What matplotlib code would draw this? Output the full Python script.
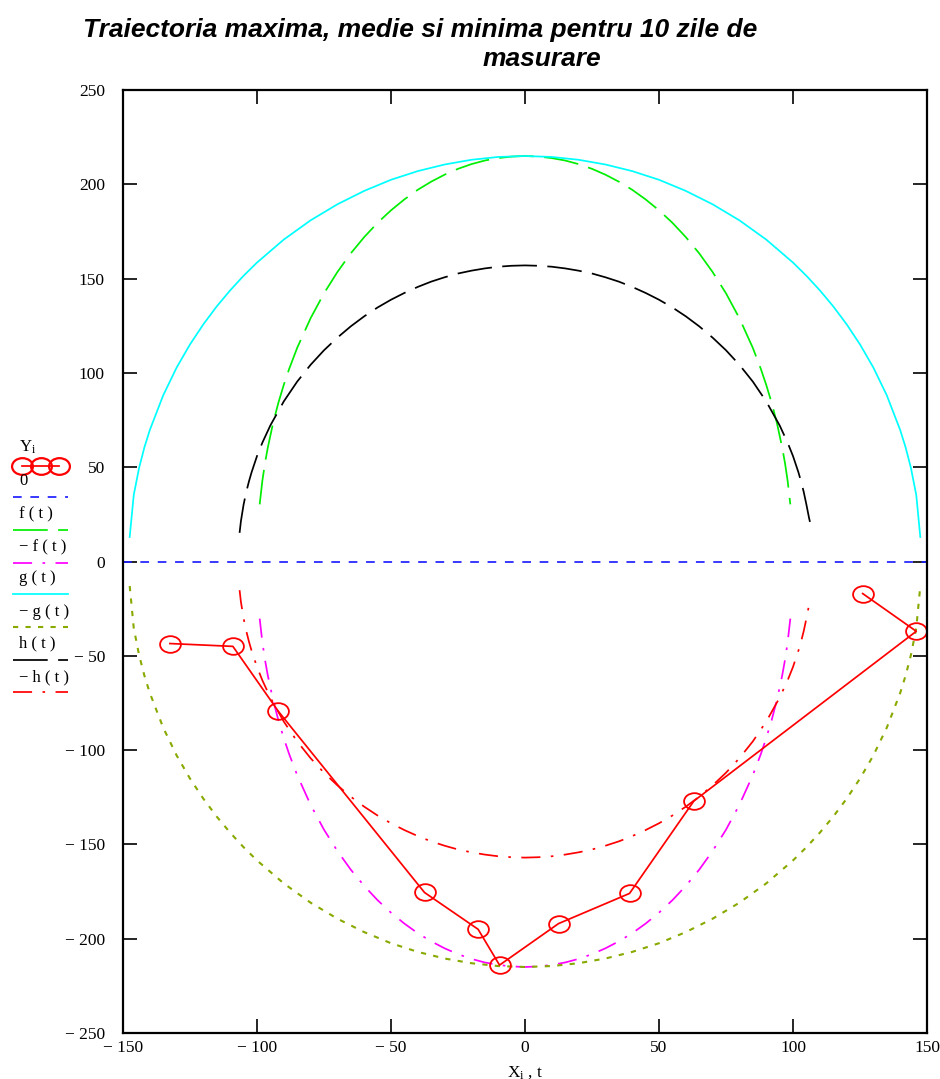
import numpy as np
import matplotlib
matplotlib.use('Agg')
import matplotlib.pyplot as plt
from matplotlib.lines import Line2D
from matplotlib.path import Path
from matplotlib.transforms import Affine2D
from matplotlib.ticker import FuncFormatter

plt.rcParams['mathtext.fontset'] = 'custom'
plt.rcParams['mathtext.rm'] = 'Liberation Serif'
plt.rcParams['mathtext.it'] = 'Liberation Serif'

# measured points Y_i vs X_i
X = [-132.5, -109, -92, -37.5, -17.5, -9.5, 12.5, 39, 63, 146, 126]
Y = [-43.5, -45, -79.5, -175.5, -195, -214, -192, -176, -127, -37, -17]

# f(t)
t_f = [-99, -98, -97, -96, -94, -92, -90, -88, -85, -80, -75, -70, -65, -60, -55, -50,
       -45, -40, -35, -30, -25, -20, -15, -10, -5, 0,
       5, 10, 15, 20, 25, 30, 35, 40, 45, 50, 55, 60, 65, 70, 75, 80,
       85, 88, 90, 92, 94, 96, 97, 98, 99]
f_t = [30.3, 42.8, 52.3, 60.2, 73.4, 84.3, 93.7, 102.1, 113.3, 129, 142.2, 153.5, 163.4, 172, 179.6, 186.2,
       192, 197.1, 201.4, 205.1, 208.2, 210.7, 212.6, 213.9, 214.7, 215,
       214.7, 213.9, 212.6, 210.7, 208.2, 205.1, 201.4, 197.1, 192, 186.2, 179.6, 172, 163.4, 153.5, 142.2, 129,
       113.3, 102.1, 93.7, 84.3, 73.4, 60.2, 52.3, 42.8, 30.3]

# g(t)
t_g = [-147.5, -146, -144, -142, -140, -135, -130, -125, -120, -115, -110, -105, -100,
       -90, -80, -70, -60, -50, -40, -30, -20, -10, 0,
       10, 20, 30, 40, 50, 60, 70, 80, 90,
       100, 105, 110, 115, 120, 125, 130, 135, 140, 142, 144, 146, 147.5]
g_t = [13, 35.2, 49.6, 60.6, 69.7, 88.1, 102.8, 115.1, 125.8, 135.3, 143.8, 151.5, 158.5,
       170.7, 180.9, 189.4, 196.5, 202.4, 207, 210.5, 213, 214.5, 215,
       214.5, 213, 210.5, 207, 202.4, 196.5, 189.4, 180.9, 170.7,
       158.5, 151.5, 143.8, 135.3, 125.8, 115.1, 102.8, 88.1, 69.7, 60.6, 49.6, 35.2, 13]

# h(t)
t_h = [-106.5, -106, -105, -104, -103, -102, -100, -98, -95, -90, -85, -80, -75, -70, -65, -60,
       -55, -50, -45, -40, -35, -30, -25, -20, -15, -10, -5, 0,
       5, 10, 15, 20, 25, 30, 35, 40, 45, 50, 55,
       60, 65, 70, 75, 80, 85, 90, 95, 98, 100, 102, 103, 104, 105, 106, 106.5]
h_t = [15.2, 21.4, 30.2, 36.9, 42.5, 47.4, 55.9, 63, 72.2, 84.9, 95.4, 104.3, 112, 118.7, 124.7, 130,
       134.7, 138.8, 142.4, 145.6, 148.4, 150.7, 152.7, 154.2, 155.4, 156.3, 156.8, 157,
       156.8, 156.3, 155.4, 154.2, 152.7, 150.7, 148.4, 145.6, 142.4, 138.8, 134.7,
       130, 124.7, 118.7, 112, 104.3, 95.4, 84.9, 72.2, 63, 55.9, 47.4, 42.5, 36.9, 30.2, 23, 20]

t_zero = [-150, 150]
zero = [0, 0]

xticks = [-150, -100, -50, 0, 50, 100, 150]
yticks = [-250, -200, -150, -100, -50, 0, 50, 100, 150, 200, 250]

# slightly flattened circle, like the original markers
oval = Path.unit_circle().transformed(Affine2D().scale(1.25, 1.0))

lw = 1.25
styles = {
    'Y': dict(color='red', lw=lw, marker=oval, ms=15, mfc='none', mec='red', mew=1.3),
    '0': dict(color='#2020ff', lw=lw, dashes=(5, 5)),
    'f': dict(color='#00ee00', lw=lw, dashes=(20, 6)),
    '-f': dict(color='magenta', lw=lw, dashes=(11, 6, 1.5, 6)),
    'g': dict(color='cyan', lw=lw),
    '-g': dict(color='#88aa00', lw=lw*1.2, dashes=(2.5, 3.5)),
    'h': dict(color='black', lw=lw, dashes=(20, 6)),
    '-h': dict(color='red', lw=lw, dashes=(11, 6, 1.5, 6)),
}

fig = plt.figure(figsize=(9.4, 10.79), dpi=100)
ax = fig.add_axes([123/940, 1 - 1033/1079, 804/940, 943/1079])

ax.plot(t_zero, zero, **styles['0'])
ax.plot(t_f, f_t, **styles['f'])
ax.plot(t_f, [-v for v in f_t], **styles['-f'])
ax.plot(t_g, g_t, **styles['g'])
ax.plot(t_g, [-v for v in g_t], **styles['-g'])
ax.plot(t_h, h_t, **styles['h'])
ax.plot(t_h, [-v for v in h_t], **styles['-h'])
ax.plot(X, Y, **styles['Y'])

ax.set_xlim(-150, 150)
ax.set_ylim(-250, 250)
ax.set_xticks(xticks)
ax.set_yticks(yticks)

def fmt(v, pos):
    v = int(round(v))
    return '\u2212 %d' % abs(v) if v < 0 else '%d' % v

ax.xaxis.set_major_formatter(FuncFormatter(fmt))
ax.yaxis.set_major_formatter(FuncFormatter(fmt))
ax.tick_params(direction='in', length=10, width=1.2, top=True, right=True,
               labelsize=12.5)
ax.tick_params(axis='x', pad=5)
ax.tick_params(axis='y', pad=13)
for lab in ax.get_xticklabels() + ax.get_yticklabels():
    lab.set_fontfamily('Liberation Serif')
for s in ax.spines.values():
    s.set_linewidth(1.6)

ax.set_xlabel(r'X$_{\mathrm{i}}$ , t', fontfamily='Liberation Serif', fontsize=12.5, labelpad=6)

fig.text(83/940, 1 - 37/1079, 'Traiectoria maxima, medie si minima pentru 10 zile de',
         fontfamily='Liberation Sans', fontweight='bold', fontstyle='italic', fontsize=19)
fig.text(483/940, 1 - 66/1079, 'masurare',
         fontfamily='Liberation Sans', fontweight='bold', fontstyle='italic', fontsize=19)

# legend at the left, outside the axes
leg_labels = [r'Y$_{\mathrm{i}}$', '0', 'f ( t )', '\u2212 f ( t )', 'g ( t )',
              '\u2212 g ( t )', 'h ( t )', '\u2212 h ( t )']
leg_keys = ['Y', '0', 'f', '-f', 'g', '-g', 'h', '-h']
text_y = [447, 481, 514, 547, 578, 612, 643, 677]
line_y = [466, 497, 530, 563, 594, 627, 660, 692]
for lab, key, ty, ly in zip(leg_labels, leg_keys, text_y, line_y):
    fig.text(19/940, 1 - ty/1079, lab, fontfamily='Liberation Serif', fontsize=12,
             va='center', ha='left')
    st = dict(styles[key])
    if key == 'Y':
        xs = np.array([22, 41, 59]) / 940
        fig.add_artist(Line2D(xs, [1 - ly/1079]*3, transform=fig.transFigure,
                              marker=oval, ms=15, mfc='none', mec='red', mew=1.6,
                              color='red', lw=lw))
    else:
        fig.add_artist(Line2D([13/940, 68/940], [1 - ly/1079]*2,
                              transform=fig.transFigure, **st))

fig.savefig('out.png', dpi=100)
